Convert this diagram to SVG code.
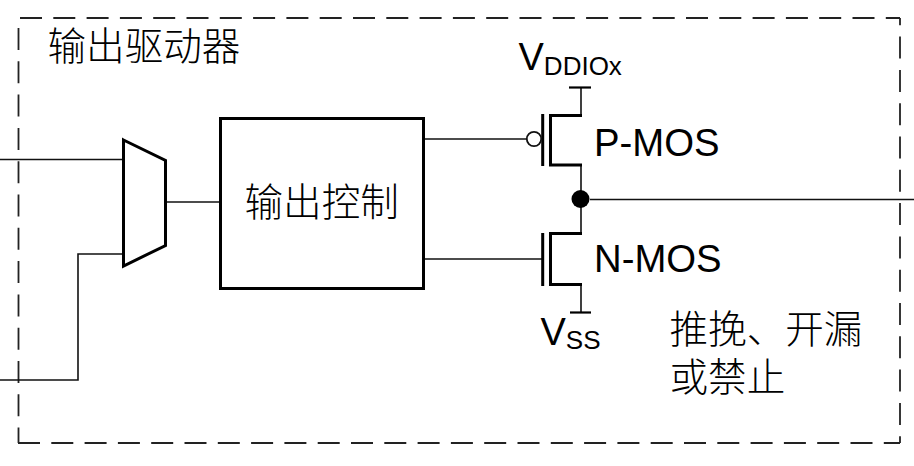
<svg xmlns="http://www.w3.org/2000/svg" width="914" height="466" viewBox="0 0 914 466">
<style>
.d{fill:none;stroke:#222;stroke-width:1.8;stroke-dasharray:22 11.3}
.w{fill:none;stroke:#111;stroke-width:1.6}
.b{fill:none;stroke:#000;stroke-width:3}
.t{fill:none;stroke:#000;stroke-width:2.2}
.l{font-family:"Liberation Sans",Arial,sans-serif;fill:#000}
.c{font-family:"Noto Sans CJK SC",sans-serif;font-size:38.6px;font-weight:300;fill:#000}
</style>
<rect width="914" height="466" fill="#fff"/>
<g id="frame">
<path class="d" d="M20 18H900"/>
<path class="d" d="M18.5 28V443"/>
<path class="d" d="M18 443H900"/>
<path class="d" d="M900 18V443" stroke-dashoffset="14.7"/>
<text class="c" x="47.5" y="60">输出驱动器</text>
</g>
<g id="connectors">
<path class="w" d="M0 159.5H123"/>
<path class="w" d="M0 380H78V254H123"/>
<path class="w" d="M166 202H220"/>
<path class="w" d="M424 139H527"/>
<path class="w" d="M424 259H542"/>
<path class="w" d="M590 199.5H914"/>
<path class="w" d="M581 87.5V115M581 165V233M581 284V312"/>
</g>
<g id="mux"><path class="b" d="M123.5 140L165.5 160.5V245.5L123.5 266Z"/></g>
<g id="output-control"><rect class="b" x="220.5" y="118.5" width="203" height="170"/><text class="c" x="244.5" y="216">输出控制</text></g>
<g id="pmos">
<path class="t" d="M569 87.5H591"/>
<path class="b" d="M542.7 114V166M582 115.5H550.5V165H582"/>
<circle cx="534" cy="139" r="7.2" fill="#fff" stroke="#111" stroke-width="1.8"/>
<text class="l" x="594" y="156" font-size="38.3">P-MOS</text>
<text class="l" x="518.5" y="70" font-size="38">V<tspan font-size="26" dy="5">DDIOx</tspan></text>
</g>
<g id="node-dot"><circle cx="580.5" cy="199" r="9" fill="#000"/></g>
<g id="nmos">
<path class="b" d="M542.7 233V286M582 233.5H550.5V284.5H582"/>
<path class="t" d="M570 312.5H591"/>
<text class="l" x="594" y="272" font-size="38.3">N-MOS</text>
<text class="l" x="540.5" y="345" font-size="38">V<tspan font-size="26" dy="4">SS</tspan></text>
</g>
<g id="note"><text class="c"><tspan x="669.5" y="343">推挽、开漏</tspan><tspan x="669.5" y="391">或禁止</tspan></text></g>
</svg>
